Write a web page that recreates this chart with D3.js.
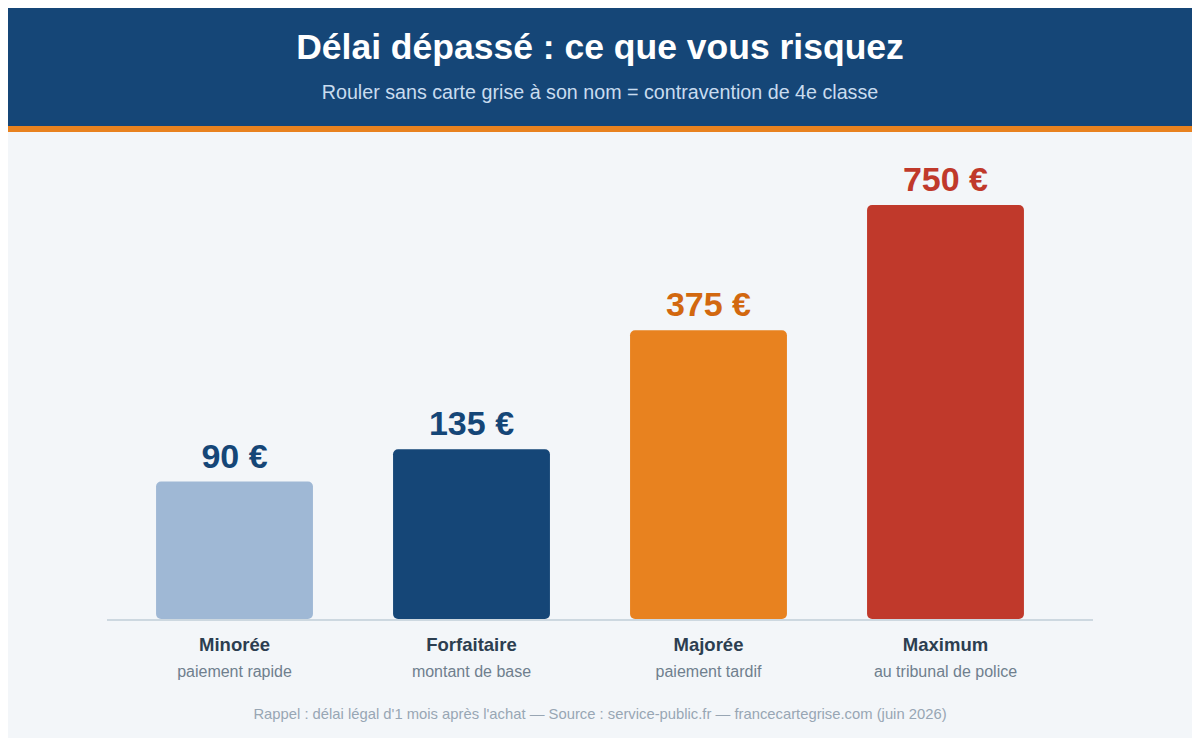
<!DOCTYPE html>
<html lang="fr">
<head>
<meta charset="utf-8">
<script src="https://cdn.jsdelivr.net/npm/d3@7"></script>
<style>
  html, body { margin: 0; background: #ffffff; }
  body { padding: 8px; }
  svg { display: block; font-family: "Liberation Sans", Arial, Helvetica, sans-serif; }
</style>
</head>
<body>
<svg id="chart"></svg>
<script>
const categories = ['Minorée', 'Forfaitaire', 'Majorée', 'Maximum']
const sublabels = ['paiement rapide', 'montant de base', 'paiement tardif', 'au tribunal de police']
const amounts = [90, 135, 375, 750]
const barColors = ['#9fb8d5', '#154677', '#e8821f', '#c0392b']
const valueColors = ['#154677', '#154677', '#d2680f', '#c0392b']

const title = 'Délai dépassé : ce que vous risquez'
const subtitle = 'Rouler sans carte grise à son nom = contravention de 4e classe'
const footer = "Rappel : délai légal d'1 mois après l'achat — Source : service-public.fr — francecartegrise.com (juin 2026)"

const width = 1184
const height = 730
const baseline = 611

const svg = d3.select('#chart').attr('width', width).attr('height', height)

// fond
svg.append('rect').attr('width', width).attr('height', height).style('fill', '#f3f6f9')

// bandeau titre
svg.append('rect').attr('width', width).attr('height', 118).style('fill', '#154677')
svg.append('rect').attr('y', 118).attr('width', width).attr('height', 6).style('fill', '#e8821f')

svg.append('text')
  .attr('x', width / 2).attr('y', 50.5)
  .attr('text-anchor', 'middle')
  .style('font-size', '35.5px').style('font-weight', 'bold').style('fill', '#ffffff')
  .text(title)

svg.append('text')
  .attr('x', width / 2).attr('y', 90.5)
  .attr('text-anchor', 'middle')
  .style('font-size', '19.7px').style('fill', '#c9dcef')
  .text(subtitle)

// échelles
const x = d3.scaleBand()
  .domain(categories)
  .range([99, 1065])
  .paddingInner(0.338)
  .paddingOuter(0.207)

const y = d3.scalePow()
  .exponent(0.52)
  .domain([0, 750])
  .range([baseline, 197])

const rows = categories.map((c, i) => ({ cat: c, sub: sublabels[i], value: amounts[i], i }))

// barres
svg.selectAll('.bar')
  .data(rows)
  .enter()
  .append('rect')
  .attr('class', 'bar')
  .attr('x', d => x(d.cat))
  .attr('y', d => y(d.value))
  .attr('width', x.bandwidth())
  .attr('height', d => baseline - y(d.value))
  .attr('rx', 5)
  .style('fill', d => barColors[d.i])

// ligne de base
svg.append('line')
  .attr('x1', 99).attr('x2', 1085)
  .attr('y1', baseline + 1).attr('y2', baseline + 1)
  .style('stroke', '#cdd8e0')
  .style('stroke-width', 2)

// montants
svg.selectAll('.value')
  .data(rows)
  .enter()
  .append('text')
  .attr('class', 'value')
  .attr('x', d => x(d.cat) + x.bandwidth() / 2)
  .attr('y', d => y(d.value) - 14)
  .attr('text-anchor', 'middle')
  .style('font-size', '34px').style('font-weight', 'bold')
  .style('fill', d => valueColors[d.i])
  .text(d => d.value + ' €')

// libellés
svg.selectAll('.cat')
  .data(rows)
  .enter()
  .append('text')
  .attr('class', 'cat')
  .attr('x', d => x(d.cat) + x.bandwidth() / 2)
  .attr('y', baseline + 32)
  .attr('text-anchor', 'middle')
  .style('font-size', '18.5px').style('font-weight', 'bold').style('fill', '#2c3e50')
  .text(d => d.cat)

svg.selectAll('.sub')
  .data(rows)
  .enter()
  .append('text')
  .attr('class', 'sub')
  .attr('x', d => x(d.cat) + x.bandwidth() / 2)
  .attr('y', baseline + 58)
  .attr('text-anchor', 'middle')
  .style('font-size', '16px').style('fill', '#6f7f8e')
  .text(d => d.sub)

// source
svg.append('text')
  .attr('x', width / 2).attr('y', 711)
  .attr('text-anchor', 'middle')
  .style('font-size', '14.8px').style('fill', '#98a6b4')
  .text(footer)
</script>
</body>
</html>
